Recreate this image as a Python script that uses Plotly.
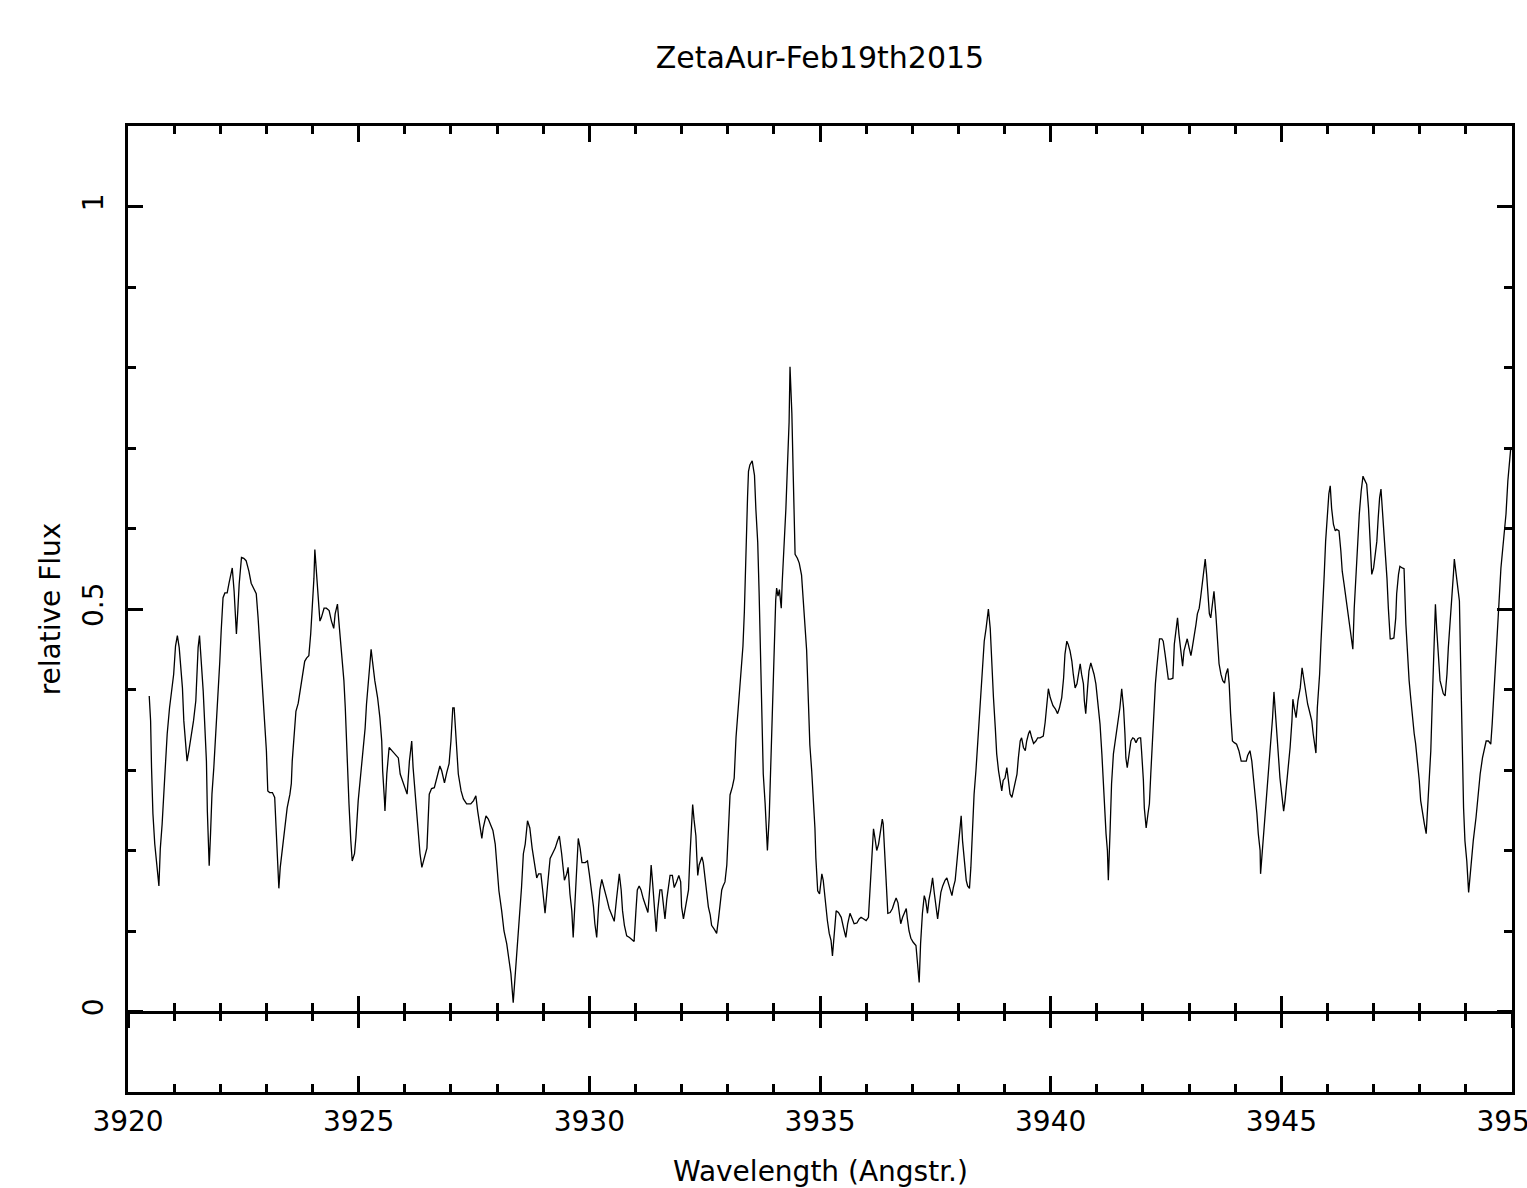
import plotly.graph_objects as go

title_text = "ZetaAur-Feb19th2015"
x_title = "Wavelength (Angstr.)"
y_title = "relative Flux"

wavelength = [
    3920.46, 3920.49, 3920.51, 3920.54, 3920.58, 3920.61, 3920.67, 3920.70, 3920.74, 3920.80,
    3920.85, 3920.90, 3920.94, 3920.99, 3921.03, 3921.07, 3921.11, 3921.14, 3921.18, 3921.21,
    3921.26, 3921.28, 3921.32, 3921.37, 3921.42, 3921.47, 3921.52, 3921.55, 3921.59, 3921.63,
    3921.66, 3921.70, 3921.72, 3921.76, 3921.79, 3921.82, 3921.86, 3921.90, 3921.94, 3921.99,
    3922.02, 3922.06, 3922.10, 3922.15, 3922.19, 3922.24, 3922.26, 3922.30, 3922.32, 3922.35,
    3922.38, 3922.41, 3922.46, 3922.51, 3922.56, 3922.62, 3922.67, 3922.73, 3922.78, 3922.82,
    3922.85, 3922.89, 3922.93, 3922.96, 3923.00, 3923.03, 3923.07, 3923.13, 3923.18, 3923.21,
    3923.25, 3923.27, 3923.30, 3923.34, 3923.40, 3923.45, 3923.51, 3923.54, 3923.56, 3923.61,
    3923.64, 3923.69, 3923.72, 3923.77, 3923.83, 3923.87, 3923.92, 3923.96, 3924.00, 3924.03,
    3924.05, 3924.08, 3924.12, 3924.16, 3924.19, 3924.25, 3924.30, 3924.36, 3924.41, 3924.46,
    3924.49, 3924.54, 3924.57, 3924.62, 3924.68, 3924.71, 3924.75, 3924.79, 3924.83, 3924.86,
    3924.91, 3924.94, 3924.99, 3925.05, 3925.10, 3925.14, 3925.17, 3925.21, 3925.25, 3925.27,
    3925.30, 3925.35, 3925.41, 3925.46, 3925.50, 3925.52, 3925.56, 3925.57, 3925.61, 3925.66,
    3925.72, 3925.79, 3925.86, 3925.90, 3925.95, 3926.00, 3926.05, 3926.10, 3926.15, 3926.18,
    3926.24, 3926.28, 3926.33, 3926.37, 3926.42, 3926.48, 3926.53, 3926.58, 3926.64, 3926.69,
    3926.76, 3926.80, 3926.86, 3926.91, 3926.96, 3927.00, 3927.04, 3927.07, 3927.10, 3927.13,
    3927.16, 3927.22, 3927.27, 3927.34, 3927.43, 3927.49, 3927.54, 3927.58, 3927.63, 3927.67,
    3927.70, 3927.76, 3927.81, 3927.86, 3927.91, 3927.96, 3927.99, 3928.04, 3928.10, 3928.15,
    3928.21, 3928.26, 3928.30, 3928.35, 3928.39, 3928.44, 3928.50, 3928.53, 3928.57, 3928.61,
    3928.66, 3928.71, 3928.76, 3928.81, 3928.86, 3928.90, 3928.95, 3928.99, 3929.04, 3929.09,
    3929.15, 3929.20, 3929.26, 3929.31, 3929.35, 3929.40, 3929.46, 3929.51, 3929.54, 3929.58,
    3929.62, 3929.65, 3929.71, 3929.76, 3929.80, 3929.84, 3929.91, 3929.96, 3930.00, 3930.05,
    3930.09, 3930.12, 3930.16, 3930.20, 3930.23, 3930.27, 3930.32, 3930.38, 3930.43, 3930.49,
    3930.54, 3930.59, 3930.63, 3930.65, 3930.69, 3930.72, 3930.76, 3930.81, 3930.87, 3930.92,
    3930.97, 3931.01, 3931.04, 3931.08, 3931.12, 3931.17, 3931.22, 3931.27, 3931.32, 3931.34,
    3931.37, 3931.41, 3931.45, 3931.48, 3931.53, 3931.57, 3931.60, 3931.64, 3931.68, 3931.71,
    3931.75, 3931.80, 3931.84, 3931.89, 3931.94, 3931.98, 3932.00, 3932.04, 3932.07, 3932.11,
    3932.15, 3932.18, 3932.22, 3932.24, 3932.27, 3932.31, 3932.33, 3932.35, 3932.38, 3932.44,
    3932.47, 3932.51, 3932.55, 3932.58, 3932.62, 3932.65, 3932.71, 3932.76, 3932.80, 3932.83,
    3932.87, 3932.90, 3932.94, 3932.98, 3933.00, 3933.03, 3933.05, 3933.10, 3933.14, 3933.18,
    3933.22, 3933.25, 3933.29, 3933.33, 3933.36, 3933.39, 3933.43, 3933.45, 3933.48, 3933.53,
    3933.58, 3933.61, 3933.65, 3933.68, 3933.71, 3933.74, 3933.77, 3933.81, 3933.83, 3933.86,
    3933.90, 3933.92, 3933.95, 3933.98, 3934.01, 3934.04, 3934.06, 3934.09, 3934.12, 3934.16,
    3934.18, 3934.22, 3934.26, 3934.29, 3934.33, 3934.35, 3934.39, 3934.42, 3934.46, 3934.51,
    3934.55, 3934.60, 3934.65, 3934.71, 3934.75, 3934.78, 3934.82, 3934.86, 3934.89, 3934.91,
    3934.95, 3934.99, 3935.04, 3935.07, 3935.11, 3935.16, 3935.20, 3935.24, 3935.27, 3935.31,
    3935.35, 3935.40, 3935.46, 3935.51, 3935.56, 3935.60, 3935.65, 3935.70, 3935.74, 3935.80,
    3935.85, 3935.89, 3935.94, 3936.00, 3936.05, 3936.09, 3936.12, 3936.16, 3936.19, 3936.23,
    3936.27, 3936.32, 3936.35, 3936.37, 3936.40, 3936.43, 3936.47, 3936.52, 3936.57, 3936.61,
    3936.65, 3936.69, 3936.72, 3936.75, 3936.79, 3936.83, 3936.87, 3936.89, 3936.93, 3936.97,
    3937.02, 3937.08, 3937.11, 3937.15, 3937.18, 3937.22, 3937.26, 3937.29, 3937.33, 3937.36,
    3937.40, 3937.44, 3937.48, 3937.52, 3937.55, 3937.59, 3937.62, 3937.66, 3937.71, 3937.75,
    3937.78, 3937.82, 3937.86, 3937.89, 3937.93, 3937.96, 3938.00, 3938.04, 3938.06, 3938.09,
    3938.13, 3938.17, 3938.20, 3938.24, 3938.27, 3938.31, 3938.34, 3938.38, 3938.42, 3938.45,
    3938.49, 3938.53, 3938.56, 3938.60, 3938.65, 3938.69, 3938.72, 3938.76, 3938.80, 3938.83,
    3938.87, 3938.90, 3938.94, 3938.97, 3939.01, 3939.05, 3939.08, 3939.12, 3939.16, 3939.19,
    3939.23, 3939.27, 3939.30, 3939.34, 3939.37, 3939.41, 3939.45, 3939.48, 3939.52, 3939.55,
    3939.59, 3939.63, 3939.68, 3939.72, 3939.77, 3939.84, 3939.88, 3939.92, 3939.95, 3939.99,
    3940.05, 3940.10, 3940.15, 3940.19, 3940.24, 3940.28, 3940.31, 3940.35, 3940.38, 3940.42,
    3940.46, 3940.49, 3940.53, 3940.57, 3940.60, 3940.64, 3940.67, 3940.71, 3940.73, 3940.76,
    3940.80, 3940.83, 3940.87, 3940.90, 3940.94, 3940.98, 3941.01, 3941.05, 3941.07, 3941.11,
    3941.14, 3941.16, 3941.20, 3941.23, 3941.25, 3941.29, 3941.32, 3941.36, 3941.40, 3941.43,
    3941.47, 3941.50, 3941.54, 3941.58, 3941.61, 3941.63, 3941.66, 3941.70, 3941.74, 3941.78,
    3941.81, 3941.85, 3941.89, 3941.92, 3941.95, 3941.97, 3942.01, 3942.03, 3942.07, 3942.11,
    3942.14, 3942.17, 3942.20, 3942.24, 3942.27, 3942.30, 3942.33, 3942.36, 3942.41, 3942.44,
    3942.48, 3942.52, 3942.55, 3942.60, 3942.65, 3942.68, 3942.72, 3942.75, 3942.78, 3942.82,
    3942.86, 3942.89, 3942.93, 3942.96, 3943.00, 3943.04, 3943.07, 3943.11, 3943.15, 3943.18,
    3943.22, 3943.25, 3943.29, 3943.33, 3943.35, 3943.38, 3943.42, 3943.44, 3943.47, 3943.51,
    3943.54, 3943.58, 3943.61, 3943.65, 3943.69, 3943.73, 3943.77, 3943.80, 3943.84, 3943.87,
    3943.90, 3943.94, 3943.98, 3944.03, 3944.08, 3944.13, 3944.18, 3944.24, 3944.27, 3944.32,
    3944.36, 3944.39, 3944.43, 3944.47, 3944.50, 3944.54, 3944.55, 3944.59, 3944.63, 3944.66,
    3944.70, 3944.73, 3944.77, 3944.81, 3944.84, 3944.87, 3944.90, 3944.94, 3944.97, 3945.01,
    3945.05, 3945.08, 3945.12, 3945.15, 3945.19, 3945.23, 3945.25, 3945.28, 3945.32, 3945.36,
    3945.41, 3945.45, 3945.48, 3945.52, 3945.57, 3945.61, 3945.66, 3945.69, 3945.73, 3945.75,
    3945.78, 3945.83, 3945.86, 3945.89, 3945.93, 3945.96, 3946.00, 3946.03, 3946.06, 3946.09,
    3946.13, 3946.17, 3946.20, 3946.25, 3946.29, 3946.32, 3946.36, 3946.40, 3946.43, 3946.47,
    3946.51, 3946.55, 3946.58, 3946.62, 3946.66, 3946.69, 3946.73, 3946.77, 3946.80, 3946.85,
    3946.89, 3946.92, 3946.96, 3947.00, 3947.03, 3947.07, 3947.10, 3947.13, 3947.16, 3947.19,
    3947.23, 3947.26, 3947.29, 3947.32, 3947.36, 3947.39, 3947.44, 3947.48, 3947.50, 3947.54,
    3947.57, 3947.62, 3947.66, 3947.70, 3947.73, 3947.77, 3947.81, 3947.84, 3947.88, 3947.91,
    3947.95, 3947.99, 3948.02, 3948.06, 3948.10, 3948.14, 3948.17, 3948.20, 3948.24, 3948.27,
    3948.31, 3948.34, 3948.37, 3948.41, 3948.44, 3948.48, 3948.51, 3948.55, 3948.59, 3948.62,
    3948.66, 3948.69, 3948.73, 3948.75, 3948.79, 3948.82, 3948.86, 3948.89, 3948.92, 3948.95,
    3948.98, 3949.02, 3949.06, 3949.09, 3949.13, 3949.16, 3949.22, 3949.26, 3949.31, 3949.36,
    3949.40, 3949.44, 3949.49, 3949.54, 3949.57, 3949.61, 3949.65, 3949.68, 3949.72, 3949.76,
    3949.79, 3949.84, 3949.87, 3949.91, 3949.94, 3949.97,
]

flux = [
    0.392, 0.361, 0.303, 0.246, 0.208, 0.187, 0.156, 0.202, 0.233, 0.295,
    0.345, 0.377, 0.398, 0.419, 0.454, 0.467, 0.452, 0.427, 0.402, 0.361,
    0.324, 0.311, 0.324, 0.340, 0.361, 0.386, 0.452, 0.467, 0.435, 0.398,
    0.361, 0.311, 0.249, 0.181, 0.222, 0.270, 0.303, 0.340, 0.386, 0.435,
    0.473, 0.514, 0.520, 0.520, 0.532, 0.549, 0.551, 0.522, 0.498, 0.469,
    0.498, 0.531, 0.564, 0.563, 0.560, 0.547, 0.532, 0.525, 0.519, 0.489,
    0.460, 0.432, 0.398, 0.365, 0.324, 0.274, 0.272, 0.272, 0.266, 0.228,
    0.175, 0.153, 0.179, 0.200, 0.228, 0.253, 0.270, 0.283, 0.311, 0.345,
    0.373, 0.383, 0.395, 0.411, 0.435, 0.439, 0.442, 0.469, 0.501, 0.538,
    0.574, 0.551, 0.526, 0.485, 0.489, 0.501, 0.501, 0.498, 0.485, 0.476,
    0.494, 0.506, 0.485, 0.452, 0.411, 0.377, 0.311, 0.258, 0.212, 0.187,
    0.196, 0.216, 0.262, 0.295, 0.324, 0.352, 0.382, 0.411, 0.439, 0.450,
    0.435, 0.411, 0.390, 0.365, 0.336, 0.299, 0.262, 0.249, 0.295, 0.328,
    0.324, 0.320, 0.315, 0.295, 0.287, 0.277, 0.270, 0.311, 0.336, 0.303,
    0.262, 0.228, 0.196, 0.179, 0.191, 0.203, 0.270, 0.277, 0.278, 0.290,
    0.305, 0.299, 0.284, 0.297, 0.308, 0.336, 0.377, 0.377, 0.352, 0.324,
    0.295, 0.274, 0.264, 0.258, 0.258, 0.262, 0.268, 0.249, 0.228, 0.215,
    0.228, 0.243, 0.239, 0.233, 0.225, 0.208, 0.184, 0.150, 0.125, 0.100,
    0.084, 0.063, 0.047, 0.011, 0.042, 0.079, 0.122, 0.154, 0.196, 0.208,
    0.237, 0.228, 0.203, 0.184, 0.166, 0.171, 0.171, 0.150, 0.122, 0.154,
    0.190, 0.196, 0.203, 0.212, 0.218, 0.196, 0.163, 0.171, 0.179, 0.146,
    0.125, 0.092, 0.154, 0.215, 0.203, 0.185, 0.185, 0.187, 0.171, 0.151,
    0.130, 0.109, 0.092, 0.130, 0.151, 0.164, 0.154, 0.140, 0.128, 0.118,
    0.112, 0.140, 0.161, 0.171, 0.151, 0.125, 0.107, 0.094, 0.092, 0.089,
    0.087, 0.125, 0.151, 0.156, 0.151, 0.140, 0.130, 0.123, 0.161, 0.182,
    0.161, 0.135, 0.099, 0.125, 0.151, 0.151, 0.135, 0.115, 0.140, 0.151,
    0.169, 0.169, 0.154, 0.161, 0.169, 0.161, 0.130, 0.115, 0.125, 0.135,
    0.151, 0.192, 0.228, 0.257, 0.238, 0.218, 0.192, 0.169, 0.182, 0.192,
    0.185, 0.166, 0.145, 0.130, 0.120, 0.107, 0.102, 0.097, 0.115, 0.135,
    0.151, 0.156, 0.161, 0.182, 0.212, 0.248, 0.269, 0.279, 0.290, 0.341,
    0.372, 0.398, 0.429, 0.454, 0.496, 0.568, 0.640, 0.671, 0.679, 0.684,
    0.666, 0.624, 0.583, 0.521, 0.439, 0.357, 0.295, 0.259, 0.228, 0.200,
    0.243, 0.284, 0.336, 0.393, 0.439, 0.511, 0.526, 0.516, 0.524, 0.501,
    0.532, 0.573, 0.624, 0.671, 0.732, 0.801, 0.743, 0.666, 0.568, 0.563,
    0.557, 0.542, 0.501, 0.449, 0.382, 0.331, 0.299, 0.266, 0.228, 0.191,
    0.150, 0.146, 0.171, 0.163, 0.138, 0.113, 0.097, 0.088, 0.069, 0.104,
    0.125, 0.123, 0.117, 0.104, 0.092, 0.109, 0.122, 0.115, 0.109, 0.110,
    0.115, 0.117, 0.115, 0.113, 0.117, 0.154, 0.196, 0.227, 0.216, 0.200,
    0.208, 0.228, 0.239, 0.233, 0.196, 0.154, 0.122, 0.123, 0.128, 0.135,
    0.141, 0.135, 0.122, 0.109, 0.117, 0.122, 0.128, 0.117, 0.100, 0.091,
    0.086, 0.082, 0.063, 0.036, 0.084, 0.122, 0.144, 0.138, 0.122, 0.138,
    0.150, 0.166, 0.146, 0.125, 0.115, 0.134, 0.148, 0.156, 0.163, 0.166,
    0.159, 0.150, 0.144, 0.154, 0.163, 0.181, 0.208, 0.228, 0.243, 0.212,
    0.184, 0.163, 0.156, 0.153, 0.179, 0.228, 0.270, 0.299, 0.333, 0.361,
    0.395, 0.432, 0.460, 0.476, 0.500, 0.476, 0.432, 0.390, 0.352, 0.320,
    0.299, 0.287, 0.274, 0.287, 0.290, 0.303, 0.290, 0.270, 0.266, 0.274,
    0.283, 0.295, 0.315, 0.336, 0.340, 0.328, 0.324, 0.336, 0.345, 0.349,
    0.340, 0.333, 0.336, 0.340, 0.340, 0.342, 0.359, 0.386, 0.401, 0.390,
    0.380, 0.376, 0.370, 0.377, 0.390, 0.414, 0.444, 0.460, 0.456, 0.448,
    0.435, 0.419, 0.402, 0.407, 0.419, 0.432, 0.419, 0.407, 0.386, 0.370,
    0.402, 0.423, 0.433, 0.427, 0.419, 0.407, 0.390, 0.370, 0.357, 0.320,
    0.287, 0.253, 0.221, 0.200, 0.163, 0.228, 0.283, 0.320, 0.336, 0.349,
    0.361, 0.377, 0.401, 0.377, 0.345, 0.315, 0.303, 0.320, 0.336, 0.340,
    0.339, 0.334, 0.339, 0.340, 0.340, 0.324, 0.287, 0.253, 0.228, 0.246,
    0.258, 0.295, 0.333, 0.370, 0.407, 0.427, 0.448, 0.463, 0.463, 0.460,
    0.444, 0.427, 0.413, 0.413, 0.414, 0.456, 0.476, 0.489, 0.469, 0.452,
    0.429, 0.448, 0.458, 0.463, 0.452, 0.442, 0.452, 0.464, 0.481, 0.494,
    0.501, 0.514, 0.531, 0.549, 0.562, 0.543, 0.514, 0.494, 0.489, 0.506,
    0.522, 0.494, 0.460, 0.432, 0.419, 0.411, 0.408, 0.419, 0.426, 0.407,
    0.370, 0.336, 0.334, 0.332, 0.324, 0.311, 0.311, 0.311, 0.318, 0.324,
    0.311, 0.295, 0.270, 0.246, 0.221, 0.200, 0.171, 0.200, 0.228, 0.258,
    0.287, 0.311, 0.336, 0.365, 0.397, 0.375, 0.345, 0.315, 0.290, 0.270,
    0.249, 0.262, 0.283, 0.299, 0.328, 0.361, 0.388, 0.377, 0.365, 0.386,
    0.402, 0.427, 0.414, 0.398, 0.382, 0.373, 0.361, 0.345, 0.328, 0.321,
    0.377, 0.419, 0.460, 0.506, 0.543, 0.584, 0.625, 0.643, 0.653, 0.625,
    0.605, 0.597, 0.599, 0.597, 0.572, 0.547, 0.531, 0.514, 0.501, 0.485,
    0.469, 0.450, 0.501, 0.547, 0.584, 0.618, 0.646, 0.665, 0.661, 0.655,
    0.625, 0.584, 0.543, 0.551, 0.563, 0.584, 0.613, 0.638, 0.649, 0.625,
    0.597, 0.568, 0.538, 0.501, 0.463, 0.463, 0.464, 0.489, 0.519, 0.543,
    0.553, 0.551, 0.550, 0.481, 0.444, 0.411, 0.386, 0.365, 0.345, 0.333,
    0.311, 0.287, 0.262, 0.246, 0.233, 0.221, 0.249, 0.287, 0.324, 0.382,
    0.444, 0.506, 0.473, 0.439, 0.411, 0.402, 0.395, 0.392, 0.419, 0.452,
    0.481, 0.510, 0.543, 0.562, 0.543, 0.531, 0.510, 0.423, 0.336, 0.253,
    0.212, 0.187, 0.148, 0.171, 0.196, 0.212, 0.241, 0.270, 0.295, 0.315,
    0.328, 0.336, 0.336, 0.332, 0.357, 0.402, 0.435, 0.476, 0.510, 0.551,
    0.572, 0.597, 0.618, 0.659, 0.684, 0.698,
]

n = min(len(wavelength), len(flux))
wavelength = wavelength[:n]
flux = flux[:n]

x_range = [3920, 3950]
y_range = [-0.1, 1.1]
x_tickvals = [3920, 3925, 3930, 3935, 3940, 3945, 3950]
x_ticktext = ["3920", "3925", "3930", "3935", "3940", "3945", "3950"]
x_minor = 1
y_tickvals = [0, 0.5, 1]
y_ticktext = ["0", "0.5", "1"]
y_minor = 0.1

FONT = "DejaVu Sans"
BLACK = "#000000"
W, H = 1527, 1188
ML, MR, MT, MB = 128, 15, 126, 96

fig = go.Figure()
fig.add_trace(go.Scatter(
    x=wavelength, y=flux, mode="lines",
    line=dict(color=BLACK, width=1.3),
    showlegend=False, hoverinfo="skip", cliponaxis=True,
))
# helper traces so the zero-line axes are drawn
for ax in ("x2", "x3"):
    fig.add_trace(go.Scatter(
        x=[wavelength[0]], y=[flux[0]], xaxis=ax, yaxis="y",
        mode="markers", marker=dict(opacity=0), showlegend=False, hoverinfo="skip",
    ))

zero_pos = (0 - y_range[0]) / (y_range[1] - y_range[0])
plot_h = H - MT - MB

axis_common = dict(
    range=x_range, showgrid=False, zeroline=False, color=BLACK, automargin=False,
)

fig.update_layout(
    width=W, height=H, autosize=False,
    margin=dict(l=ML, r=MR, t=MT, b=MB, autoexpand=False),
    paper_bgcolor="white", plot_bgcolor="white",
    font=dict(family=FONT, size=28, color=BLACK),
    title=dict(text=title_text, x=820 / W, xanchor="center",
               y=1 - 57 / H, yanchor="middle", yref="container",
               font=dict(family=FONT, size=30, color=BLACK)),
    xaxis=dict(
        **axis_common,
        showline=True, linewidth=3, linecolor=BLACK, mirror="ticks",
        ticks="inside", ticklen=16, tickwidth=2.5, tickcolor=BLACK,
        tickmode="array", tickvals=x_tickvals, ticktext=x_ticktext,
        minor=dict(ticks="inside", ticklen=8, tickwidth=2.5, tickcolor=BLACK, dtick=x_minor, tick0=3920),
        tickfont=dict(family=FONT, size=28, color=BLACK),
        ticklabelstandoff=2, ticklabeloverflow="allow",
    ),
    xaxis2=dict(
        **axis_common, overlaying="x", anchor="free", position=zero_pos, matches="x",
        showline=True, linewidth=3, linecolor=BLACK,
        ticks="inside", ticklen=15, tickwidth=2.5, tickcolor=BLACK,
        tickmode="array", tickvals=x_tickvals, showticklabels=False,
        minor=dict(ticks="inside", ticklen=8, tickwidth=2.5, tickcolor=BLACK, dtick=x_minor, tick0=3920),
    ),
    xaxis3=dict(
        **axis_common, overlaying="x", anchor="free", position=zero_pos, matches="x",
        showline=False,
        ticks="outside", ticklen=15, tickwidth=2.5, tickcolor=BLACK,
        tickmode="array", tickvals=x_tickvals, showticklabels=False,
        minor=dict(ticks="outside", ticklen=8, tickwidth=2.5, tickcolor=BLACK, dtick=x_minor, tick0=3920),
    ),
    yaxis=dict(
        range=y_range, showgrid=False, zeroline=False, automargin=False,
        showline=True, linewidth=3, linecolor=BLACK, mirror="ticks",
        ticks="inside", ticklen=15, tickwidth=2.5, tickcolor=BLACK,
        tickvals=y_tickvals, ticktext=y_ticktext, tickangle=-90,
        minor=dict(ticks="inside", ticklen=8, tickwidth=2.5, tickcolor=BLACK, dtick=y_minor, tick0=0),
        tickfont=dict(family=FONT, size=28, color=BLACK),
        ticklabelstandoff=11,
        title=dict(text=y_title, font=dict(family=FONT, size=28, color=BLACK), standoff=8),
    ),
    annotations=[dict(
        text=x_title, xref="paper", yref="paper",
        x=0.5, y=-(1171 - (H - MB)) / plot_h, xanchor="center", yanchor="middle",
        showarrow=False, font=dict(family=FONT, size=28, color=BLACK),
    )],
)

fig.write_html(
    "out.html",
    config={"displayModeBar": False},
    post_script="document.body.style.margin='0';document.body.style.overflow='hidden';",
)
